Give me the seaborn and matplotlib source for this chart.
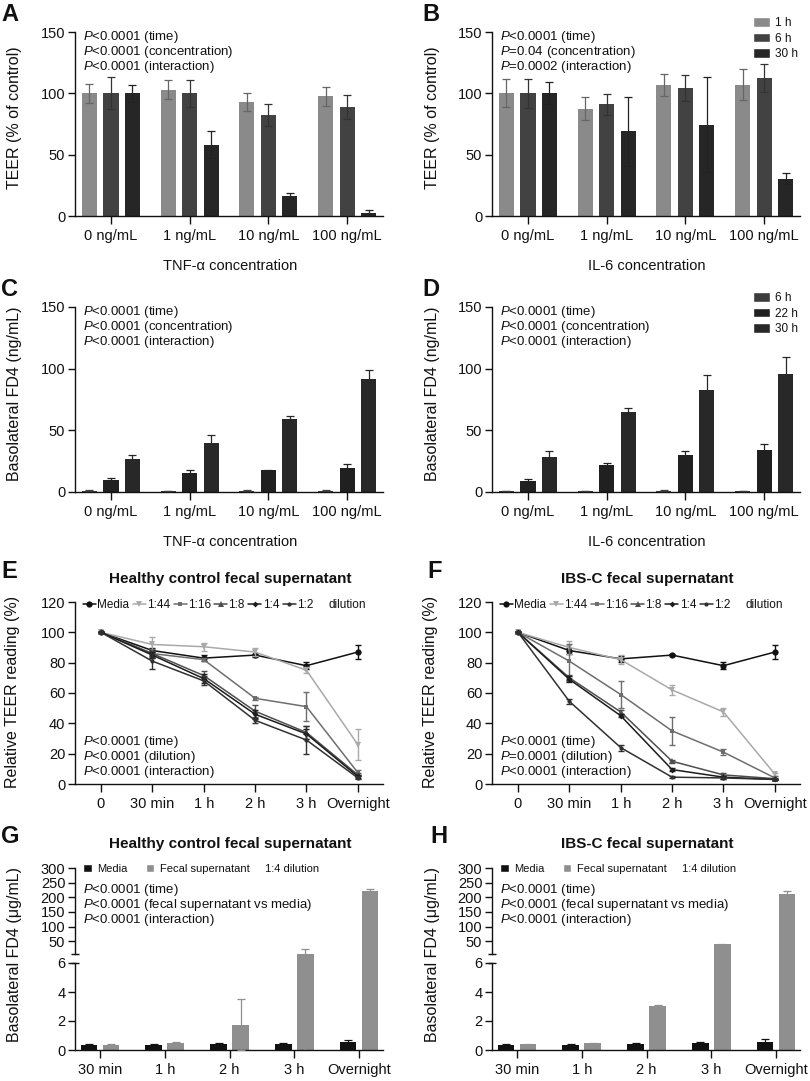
import matplotlib
matplotlib.use("Agg")
import matplotlib.pyplot as plt
import pandas as pd
import seaborn as sns
from matplotlib.lines import Line2D
from matplotlib.patches import Patch

# ---------------- data ----------------
conc_labels = ["0 ng/mL", "1 ng/mL", "10 ng/mL", "100 ng/mL"]
teer_times = ["1 h", "6 h", "30 h"]
fd4_times = ["6 h", "22 h", "30 h"]

# A: TEER after TNF-a (% of control); rows = 1 h, 6 h, 30 h
tnf_teer = [[100, 103, 93, 97.5], [100, 100, 82, 89], [100, 58, 16, 2.5]]
tnf_teer_err = [[8, 7.5, 7.5, 7.5], [13, 11, 9, 10], [7, 11, 2.5, 2]]
# B: TEER after IL-6
il6_teer = [[100, 87.5, 107, 107], [100, 91, 104.5, 112.5], [100, 69, 74.5, 30.5]]
il6_teer_err = [[11.5, 9.5, 9, 12.5], [12, 8.5, 10.5, 11.5], [9, 28, 39, 4.5]]
# C: basolateral FD4 after TNF-a (ng/mL); rows = 6 h, 22 h, 30 h
tnf_fd4 = [[1.0, 0.8, 1.0, 1.2], [9.7, 15.2, 17.5, 19.5], [26.8, 39.5, 59.5, 92]]
tnf_fd4_err = [[0.3, 0.3, 0.3, 0.4], [1.5, 2.5, 0.6, 3.2], [3, 6.8, 2.4, 7]]
# D: basolateral FD4 after IL-6
il6_fd4 = [[0.8, 0.9, 1.0, 0.9], [9.2, 21.7, 29.8, 33.8], [28.7, 64.8, 82.5, 96]]
il6_fd4_err = [[0.3, 0.3, 0.3, 0.3], [1.3, 1.7, 3.5, 5.3], [4.9, 3.6, 12.2, 13.5]]

# E/F: relative TEER (%) over time per dilution
time_labels = ["0", "30 min", "1 h", "2 h", "3 h", "Overnight"]
dilutions = ["Media", "1:44", "1:16", "1:8", "1:4", "1:2"]
hc_teer = [
    [100, 88, 83, 85, 78, 87],
    [100, 92, 90.5, 87, 75, 26],
    [100, 86, 82, 56.5, 51, 7.5],
    [100, 86, 71.5, 48, 34, 6],
    [100, 85, 69.5, 46, 33, 5],
    [100, 81, 68, 42, 29, 4],
]
hc_teer_err = [
    [0, 2, 2, 1, 2.5, 4.5],
    [0, 5, 2.5, 2.5, 2, 10],
    [0, 3, 1, 1, 9.5, 1.5],
    [0, 2, 3, 4, 4, 1],
    [0, 2, 3, 3, 3, 1],
    [0, 5, 3, 1.5, 9, 1],
]
ibs_teer = [
    [100, 88, 82.5, 85, 78, 87],
    [100, 90, 82, 62, 47.5, 6.5],
    [100, 81, 59, 35, 21, 4],
    [100, 70, 47.5, 15, 6, 3.5],
    [100, 69, 45, 9.5, 4.5, 3],
    [100, 54.5, 24, 4.5, 4, 3],
]
ibs_teer_err = [
    [0, 2, 2, 0.5, 2.5, 4.5],
    [0, 4, 3, 3, 2.5, 1],
    [0, 11, 9, 9, 2, 1],
    [0, 2, 1.5, 1, 1, 0.5],
    [0, 2, 1, 1, 1, 0.5],
    [0, 1.5, 2, 0.5, 0.5, 0.5],
]

# G/H: basolateral FD4 (ug/mL); rows = media, fecal supernatant
fd4_time_labels = ["30 min", "1 h", "2 h", "3 h", "Overnight"]
fs_groups = ["Media", "Fecal supernatant"]
hc_fs_fd4 = [[0.35, 0.35, 0.4, 0.42, 0.57], [0.35, 0.45, 1.75, 7, 220]]
hc_fs_fd4_err = [[0.05, 0.05, 0.05, 0.06, 0.15], [0.05, 0.13, 1.75, 17, 9]]
ibs_fs_fd4 = [[0.35, 0.35, 0.42, 0.45, 0.57], [0.38, 0.45, 3.05, 39, 212]]
ibs_fs_fd4_err = [[0.05, 0.05, 0.06, 0.07, 0.16], [0.04, 0.05, 0.06, 1.5, 9]]

# ---------------- styling ----------------
teer_colors = ["#8a8a8a", "#424242", "#262626"]
teer_err_colors = ["#666666", "#333333", "#222222"]
fd4_colors = ["#3c3c3c", "#202020", "#282828"]
line_colors = ["#111111", "#a9a9a9", "#6e6e6e", "#4e4e4e", "#1c1c1c", "#303030"]
line_markers = ["o", "v", "s", "^", "D", "o"]
line_sizes = [4.5, 4, 3.5, 4, 3, 3]
fs_colors = ["#111111", "#8f8f8f"]

sns.set_style("ticks")
plt.rcParams.update({
    "font.family": ["Liberation Sans", "DejaVu Sans"],
    "mathtext.fontset": "custom",
    "mathtext.rm": "Liberation Sans",
    "mathtext.it": "Liberation Sans:italic",
    "axes.edgecolor": "#111111",
    "axes.linewidth": 1.0,
    "text.color": "#111111",
    "xtick.color": "#111111",
    "ytick.color": "#111111",
    "xtick.major.size": 5.5,
    "ytick.major.size": 5,
    "xtick.major.width": 1.0,
    "ytick.major.width": 1.0,
    "xtick.major.pad": 4,
    "ytick.major.pad": 2,
    "xtick.labelsize": 10.5,
    "ytick.labelsize": 10.5,
})

W, H = 810, 1081
DX = 417  # offset of the right-hand column
fig = plt.figure(figsize=(W / 100, H / 100), dpi=100)


def add_axes(left, top, right, bottom):
    return fig.add_axes([left / W, 1 - bottom / H, (right - left) / W, (bottom - top) / H])


def ftext(x, y, s, **kw):
    fig.text(x / W, 1 - y / H, s, **kw)


def long_table(cats, groups, values):
    rows = []
    for g, vals in zip(groups, values):
        for c, v in zip(cats, vals):
            rows.append({"cat": c, "grp": g, "val": v})
    return pd.DataFrame(rows)


def bar_panel(ax, cats, groups, means, errs, colors, err_colors, width, gap, min_val=None):
    df = long_table(cats, groups, means)
    sns.barplot(data=df, x="cat", y="val", hue="grp", order=cats, hue_order=groups,
                palette=dict(zip(groups, colors)), width=width, gap=gap,
                errorbar=None, saturation=1, legend=False, linewidth=0, ax=ax)
    for cont, err, ec in zip(ax.containers, errs, err_colors):
        xs, ys, es = [], [], []
        for b, e in zip(cont, err):
            if min_val is not None and b.get_height() + e < min_val:
                continue
            xs.append(b.get_x() + b.get_width() / 2)
            ys.append(b.get_height())
            es.append(e)
        if xs:
            ax.errorbar(xs, ys, yerr=es, fmt="none", ecolor=ec, elinewidth=0.9,
                        capsize=3, capthick=0.9, zorder=3)
    ax.set_xlabel("")
    ax.set_ylabel("")
    sns.despine(ax=ax)


def p_lines(x, y0, lines):
    for i, s in enumerate(lines):
        ftext(x, y0 + 15 * i, s, fontsize=9.5, va="center", ha="left")


def letter(x, y, s):
    ftext(x, y, s, fontsize=17, fontweight="bold", va="baseline", ha="left")


def ylab(x, y, s):
    ftext(x, y, s, fontsize=11.5, rotation=90, va="center", ha="center")


# ---------------- A-D: cytokine bar charts ----------------
bar_sets = [
    (0, 32, 216, tnf_teer, tnf_teer_err, teer_times, teer_colors, teer_err_colors,
     "TEER (% of control)", "TNF-\u03b1 concentration",
     [r"$P$<0.0001 (time)", r"$P$<0.0001 (concentration)", r"$P$<0.0001 (interaction)"], "A"),
    (DX, 32, 216, il6_teer, il6_teer_err, teer_times, teer_colors, teer_err_colors,
     "TEER (% of control)", "IL-6 concentration",
     [r"$P$<0.0001 (time)", r"$P$=0.04 (concentration)", r"$P$=0.0002 (interaction)"], "B"),
    (0, 307, 492, tnf_fd4, tnf_fd4_err, fd4_times, fd4_colors, fd4_colors,
     "Basolateral FD4 (ng/mL)", "TNF-\u03b1 concentration",
     [r"$P$<0.0001 (time)", r"$P$<0.0001 (concentration)", r"$P$<0.0001 (interaction)"], "C"),
    (DX, 307, 492, il6_fd4, il6_fd4_err, fd4_times, fd4_colors, fd4_colors,
     "Basolateral FD4 (ng/mL)", "IL-6 concentration",
     [r"$P$<0.0001 (time)", r"$P$<0.0001 (concentration)", r"$P$<0.0001 (interaction)"], "D"),
]

for dx, top, bottom, means, errs, groups, cols, ecols, ytitle, xtitle, ptxt, lab in bar_sets:
    ax = add_axes(75 + dx, top, 383 + dx, bottom)
    bar_panel(ax, conc_labels, groups, means, errs, cols, ecols, 0.82, 0.3)
    ax.set_xlim(-0.457, 3.456)
    ax.set_ylim(0, 150)
    ax.set_yticks([0, 50, 100, 150])
    p_lines(83 + dx, top + 5, ptxt)
    ylab(15 + dx, (top + bottom) / 2 - 6, ytitle)
    ftext(230 + dx, bottom + 50, xtitle, fontsize=10.5, ha="center", va="center")
    letter(1 + dx + (4 if dx else 0), top - 11, lab)
    if dx:
        ax.legend(handles=[Patch(facecolor=c) for c in cols], labels=groups,
                  loc="upper left", bbox_to_anchor=(753 / W, 1 - (top - 15) / H),
                  bbox_transform=fig.transFigure, frameon=False, fontsize=8.5,
                  borderpad=0, borderaxespad=0, handlelength=1.45, handleheight=0.85,
                  handletextpad=0.4, labelspacing=0.3)

# ---------------- E/F: TEER time courses ----------------
line_sets = [
    (0, hc_teer, hc_teer_err, "Healthy control fecal supernatant",
     [r"$P$<0.0001 (time)", r"$P$<0.0001 (dilution)", r"$P$<0.0001 (interaction)"], "E"),
    (DX, ibs_teer, ibs_teer_err, "IBS-C fecal supernatant",
     [r"$P$<0.0001 (time)", r"$P$=0.0001 (dilution)", r"$P$<0.0001 (interaction)"], "F"),
]

for dx, means, errs, title, ptxt, lab in line_sets:
    ax = add_axes(75 + dx, 602, 383 + dx, 784)
    for vals, err, col, mk, ms in zip(means, errs, line_colors, line_markers, line_sizes):
        sns.lineplot(x=time_labels, y=vals, sort=False, color=col, marker=mk,
                     markersize=ms, markeredgewidth=0, linewidth=1.1, ax=ax)
        ax.errorbar(time_labels, vals, yerr=err, fmt="none", ecolor=col,
                    elinewidth=1, capsize=2, capthick=1)
    ax.set_xlim(-0.506, 5.49)
    ax.set_ylim(0, 120)
    ax.set_yticks(range(0, 121, 20))
    ax.set_xlabel("")
    ax.set_ylabel("")
    sns.despine(ax=ax)
    handles = [Line2D([0], [0], color=c, marker=m, ms=s, mew=0, lw=1.1)
               for c, m, s in zip(line_colors, line_markers, line_sizes)]
    ax.legend(handles=handles, labels=dilutions, ncol=6, loc="center left",
              bbox_to_anchor=((83 + dx) / W, 1 - 605 / H), bbox_transform=fig.transFigure,
              frameon=False, fontsize=8.5, borderpad=0, borderaxespad=0,
              handlelength=1.1, handletextpad=0.1, columnspacing=0.3)
    ftext(347 + dx, 605, "dilution", fontsize=8.5, ha="center", va="center")
    p_lines(83 + dx, 742, ptxt)
    ylab(13 + dx, 692, "Relative TEER reading (%)")
    ftext(230 + dx, 579, title, fontsize=11, fontweight="bold", ha="center", va="center")
    letter(1 + dx + (9 if dx else 0), 578, lab)

# ---------------- G/H: FD4 with broken y axis ----------------
fs_sets = [
    (0, hc_fs_fd4, hc_fs_fd4_err, "Healthy control fecal supernatant", "G"),
    (DX, ibs_fs_fd4, ibs_fs_fd4_err, "IBS-C fecal supernatant", "H"),
]

for dx, means, errs, title, lab in fs_sets:
    low = add_axes(75 + dx, 954, 383 + dx, 1050)
    up = add_axes(75 + dx, 868, 383 + dx, 954)
    bar_panel(low, fd4_time_labels, fs_groups, means, errs, fs_colors, fs_colors, 0.68, 0.24)
    bar_panel(up, fd4_time_labels, fs_groups, means, errs, fs_colors, fs_colors, 0.68, 0.24,
              min_val=6.5)
    for ax in (low, up):
        ax.set_xlim(-0.386, 4.37)
    low.set_ylim(0, 96 / 14.5)
    low.set_yticks([0, 2, 4, 6])
    low.spines["left"].set_bounds(0, 6)
    up.set_ylim(6, 300)
    up.set_yticks([50, 100, 150, 200, 250, 300])
    up.spines["bottom"].set_visible(False)
    up.tick_params(axis="x", bottom=False, labelbottom=False)
    up.patch.set_alpha(0)
    # small caps at the break of the y axis
    for ax in (low, up):
        ax.plot([0], [6], marker="_", ms=6, mew=1, color="#111111",
                transform=ax.get_yaxis_transform(), clip_on=False)
    up.legend(handles=[Patch(facecolor=c) for c in fs_colors], labels=fs_groups, ncol=2,
              loc="center left", bbox_to_anchor=((83 + dx) / W, 1 - 869 / H),
              bbox_transform=fig.transFigure, frameon=False, fontsize=8,
              borderpad=0, borderaxespad=0, handlelength=0.8, handleheight=0.8,
              handletextpad=0.5, columnspacing=1.6)
    ftext(265 + dx, 869, "1:4 dilution", fontsize=8, ha="left", va="center")
    p_lines(83 + dx, 890, [r"$P$<0.0001 (time)", r"$P$<0.0001 (fecal supernatant vs media)",
                           r"$P$<0.0001 (interaction)"])
    ylab(15 + dx, 955, "Basolateral FD4 (\u03bcg/mL)")
    ftext(230 + dx, 844, title, fontsize=11, fontweight="bold", ha="center", va="center")
    letter(1 + dx + (12 if dx else 0), 843, lab)

fig.savefig("out.png", dpi=100)
